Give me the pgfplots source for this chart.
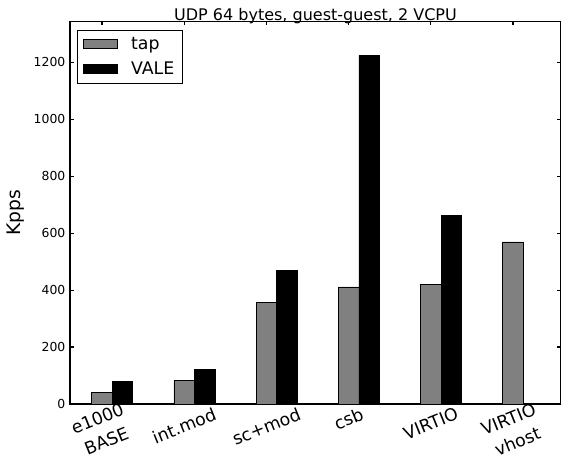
\documentclass[border=0pt]{standalone}
\usepackage{fontspec}
\setmainfont{DejaVu Sans}
\usepackage{graphicx}
\usepackage{pgfplots}
\pgfplotsset{compat=1.18}
\pgfplotsset{patchleg/.style={legend image code/.code={\draw[##1] (0pt,-3.5pt) rectangle (26pt,3.5pt); \path[draw=none,fill=none] (34pt,0pt) circle (0pt);}}}
\newcommand{\rl}[1]{\rotatebox{22}{\vbox{\baselineskip=18pt\halign{\hfil##\hfil\cr#1\crcr}}}}
\newcommand{\rlt}[1]{\raisebox{0pt}[\dimexpr\height-3.5pt\relax][\depth]{\rl{#1}}}
\begin{document}
\begin{tikzpicture}
\begin{axis}[
  scale only axis, width=368.25pt, height=286.9pt,
  xmin=-0.389, xmax=5.584, ymin=0, ymax=1343,
  axis line style={line width=0.8pt, black},
  every tick/.style={black, line width=0.8pt},
  major tick length=3pt,
  tick align=inside,
  xtick={0,1,2,3,4,5},
  xticklabels={{\rlt{e1000\cr BASE}},{\rl{int.mod}},{\rl{sc+mod}},{\rl{csb}},{\rl{VIRTIO}},{\rlt{VIRTIO\cr vhost}}},
  xticklabel style={anchor=north, font=\fontsize{13}{15.6}\selectfont, inner sep=2pt, yshift=0pt},
  ytick={0,200,400,600,800,1000,1200},
  yticklabel style={font=\fontsize{9.3}{10}\selectfont},
  /pgf/number format/assume math mode=true,
  /pgf/number format/1000 sep={},
  ylabel={Kpps}, ylabel style={font=\fontsize{14}{16}\selectfont},
  title={UDP 64 bytes, guest-guest, 2 VCPU},
  title style={font=\fontsize{12}{14}\selectfont, yshift=-11pt},
  legend cell align=left,
  legend style={at={(0.0143,0.978)}, anchor=north west, draw=black, line width=0.6pt,
    font=\fontsize{13}{15}\selectfont, row sep=4pt, inner xsep=4pt, inner ysep=3pt},
]
\addplot[ybar, bar width=0.25, bar shift=0, fill=gray, draw=black, line width=0.5pt, patchleg]
  coordinates {(0,41) (1,84) (2,357) (3,411) (4,420) (5,569)};
\addplot[ybar, bar width=0.25, bar shift=0.25, fill=black, draw=black, line width=0.5pt, patchleg]
  coordinates {(0,78) (1,121) (2,470) (3,1224) (4,662) (5,2)};
\legend{tap, VALE}
\end{axis}
\pgfresetboundingbox
\path[use as bounding box] (-52.5pt,-41.25pt) rectangle (368.25pt,303pt);
\end{tikzpicture}
\end{document}
